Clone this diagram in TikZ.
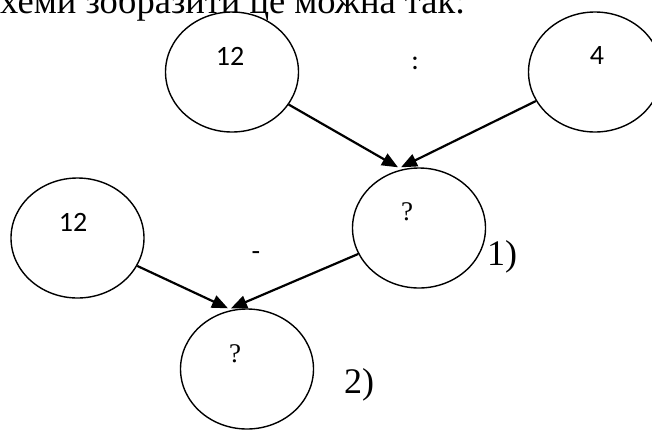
\documentclass[tikz,border=0pt]{standalone}
\usepackage{fontspec}
\setmainfont{Liberation Serif}
\newfontfamily\calfont{Carlito}
\usetikzlibrary{arrows.meta,shapes.geometric}
\definecolor{ink}{HTML}{000000}
\tikzset{
  oval/.style={draw=ink, ellipse, line width=1.4pt, minimum width=133pt, minimum height=120pt, inner sep=0pt},
  num/.style={font=\calfont\fontsize{28}{32}\selectfont, text=ink, inner sep=0pt},
  qm/.style={font=\fontsize{27}{30}\selectfont, text=ink, inner sep=0pt},
  stepno/.style={font=\fontsize{36}{40}\selectfont, text=ink, inner sep=0pt, anchor=base west},
  arr/.style={-{Triangle[length=16pt, width=13pt]}, line width=2.2pt, draw=ink},
}

\begin{document}
\begin{tikzpicture}[x=1pt, y=-1pt]
  \useasboundingbox (0,0) rectangle (652,429);
  \node[anchor=base west, font=\fontsize{36.5}{40}\selectfont, inner sep=0pt] (head) at (0,13) {хеми зобразити це можна так:};
  % ovals
  \node[oval] (dvd) at (232,72) {};
  \node[oval] (dvs) at (595,72) {};
  \node[oval] (quo) at (419,228) {};
  \node[oval] (mnd) at (77.5,238) {};
  \node[oval] (res) at (247,369) {};
  % texts in and between ovals
  \node[num] (dvdtxt) at (230,56) {12};
  \node[num] (dvstxt) at (597,56) {4};
  \node[num] (divop) at (415,63) {:};
  \node[num] (mndtxt) at (73,222) {12};
  \node[num] (subop) at (256,256) {-};
  \node[qm] (quotxt) at (407,212) {?};
  \node[qm] (restxt) at (235,354) {?};
  \node[stepno] (stepa) at (487,265) {1)};
  \node[stepno] (stepb) at (344,393) {2)};
  % arrows
  \coordinate (ina) at ([xshift=-21pt]quo.north);
  \coordinate (inb) at ([xshift=-18pt]quo.north);
  \coordinate (inc) at ([xshift=-19pt]res.north);
  \coordinate (ind) at ([xshift=-16pt]res.north);
  \draw[arr] (dvd) -- (ina);
  \draw[arr] (dvs) -- (inb);
  \draw[arr] (mnd) -- (inc);
  \draw[arr] (quo) -- (ind);
\end{tikzpicture}
\end{document}
